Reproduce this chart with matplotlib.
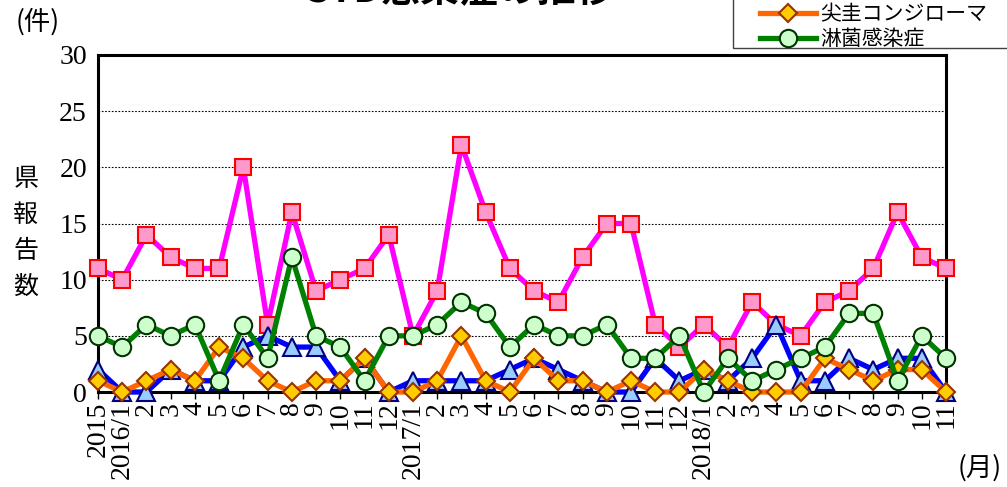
import numpy as np
import matplotlib
matplotlib.use('Agg')
import matplotlib.pyplot as plt
from matplotlib.patches import Rectangle

# months 2015/12 .. 2018/11
months = ['2015', '2016/1'] + [str(m) for m in range(2, 13)] + \
         ['2017/1'] + [str(m) for m in range(2, 13)] + \
         ['2018/1'] + [str(m) for m in range(2, 12)]

chlamydia = [11, 10, 14, 12, 11, 11, 20, 6, 16, 9, 10, 11, 14, 5, 9, 22, 16, 11,
             9, 8, 12, 15, 15, 6, 4, 6, 4, 8, 6, 5, 8, 9, 11, 16, 12, 11]
herpes    = [2, 0, 0, 2, 1, 1, 4, 5, 4, 4, 1, 3, 0, 1, 1, 1, 1, 2,
             3, 2, 1, 0, 0, 3, 1, 2, 1, 3, 6, 1, 1, 3, 2, 3, 3, 0]
condyloma = [1, 0, 1, 2, 1, 4, 3, 1, 0, 1, 1, 3, 0, 0, 1, 5, 1, 0,
             3, 1, 1, 0, 1, 0, 0, 2, 1, 0, 0, 0, 3, 2, 1, 2, 2, 0]
gonorrhea = [5, 4, 6, 5, 6, 1, 6, 3, 12, 5, 4, 1, 5, 5, 6, 8, 7, 4,
             6, 5, 5, 6, 3, 3, 5, 0, 3, 1, 2, 3, 4, 7, 7, 1, 5, 3]

labels = ['性器クラミジア感染症', '性器ヘルペスウイルス感染症', '尖圭コンジローマ', '淋菌感染症']

jp = ['Noto Sans CJK JP', 'DejaVu Sans']
num = 'Liberation Serif'

fig = plt.figure(figsize=(10.07, 4.87), dpi=100)
ax = fig.add_axes([98/1007, 1-392/487, (946-98)/1007, (392-55)/487])

x = np.arange(len(months))
ax.plot(x, chlamydia, color='#FF00FF', lw=3.8, marker='s', ms=12,
        mfc='#FF99CC', mec='#FF0000', mew=1.5, label=labels[0], clip_on=False, zorder=3)
ax.plot(x, herpes, color='#0000FF', lw=3.8, marker='^', ms=13,
        mfc='#99CCFF', mec='#000080', mew=1.5, label=labels[1], clip_on=False, zorder=4)
ax.plot(x, condyloma, color='#FF6600', lw=3.8, marker='D', ms=9.5,
        mfc='#FFCC00', mec='#993300', mew=1.5, label=labels[2], clip_on=False, zorder=5)
ax.plot(x, gonorrhea, color='#008000', lw=3.8, marker='o', ms=12.5,
        mfc='#CCFFCC', mec='#003300', mew=1.5, label=labels[3], clip_on=False, zorder=6)

ax.set_xlim(0, len(months)-1)
ax.set_ylim(0, 30)
ax.set_yticks(np.arange(0, 31, 5))
ax.set_yticklabels([str(v) for v in range(0, 31, 5)], fontfamily=num, fontsize=20)
ax.set_xticks(x)
ax.set_xticklabels(months, rotation=90, fontfamily=num, fontsize=20)
ax.tick_params(axis='y', length=0, pad=8)
ax.tick_params(axis='x', direction='out', length=5, width=1, pad=2)
for y in range(5, 30, 5):
    ax.axhline(y, color='k', lw=0.8, ls=(0, (1.5, 1.5)), zorder=1)
for s in ax.spines.values():
    s.set_linewidth(2.2)
    s.set_zorder(2)

fig.text(60/1007, 1-22/487, '(件)', family=jp, fontsize=19, ha='right', va='center')
fig.text(26/1007, 1-233/487, '県\n報\n告\n数', family=jp, fontsize=18,
         ha='center', va='center', linespacing=1.5)
fig.text(1002/1007, 1-468/487, '(月)', family=jp, fontsize=19, ha='right', va='center')
fig.text(460/1007, 1-10/487, 'STD感染症の推移', family=jp, fontsize=28,
         fontweight='bold', ha='center', va='bottom')

# legend box (cut by the top edge, as in the original)
fig.patches.append(Rectangle((733/1007, 1-48/487), 300/1007, 60/487,
                             transform=fig.transFigure, fc='white',
                             ec='#404040', lw=1, zorder=5))
leg = fig.legend(loc='lower left', bbox_to_anchor=(760/1007, 1-50/487),
                 prop={'family': jp, 'size': 15}, frameon=False,
                 handlelength=2.7, borderpad=0, labelspacing=0.15,
                 handletextpad=0.2, borderaxespad=0)
leg.set_zorder(6)

fig.savefig('out.png', dpi=100)
